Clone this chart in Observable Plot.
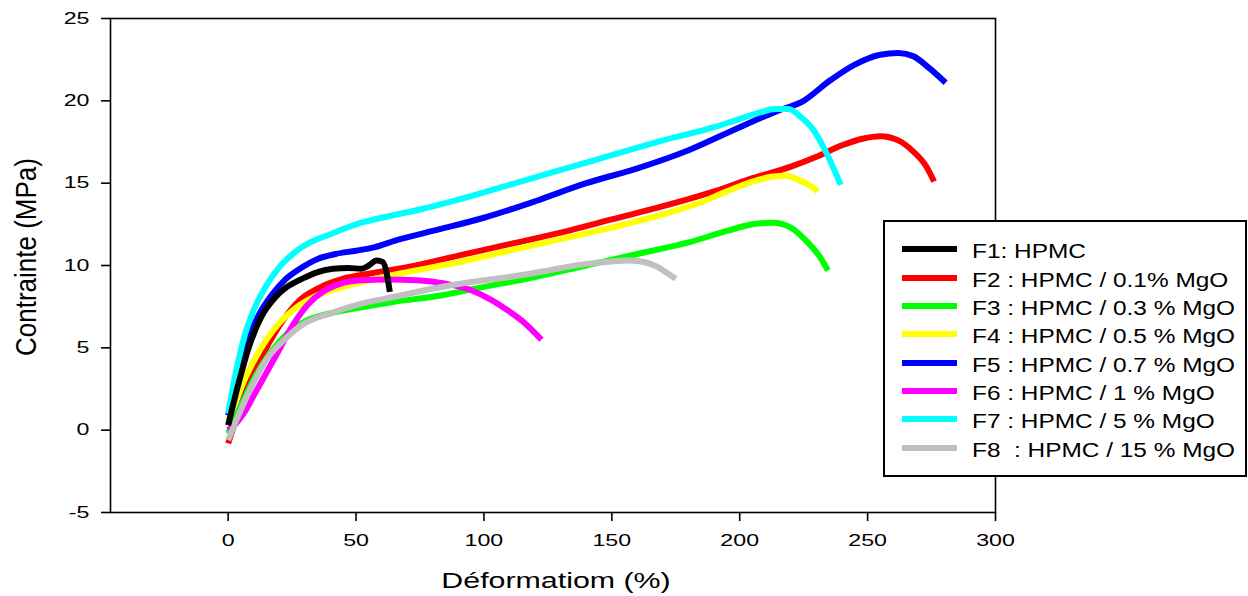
<!DOCTYPE html>
<html>
<head>
<meta charset="utf-8">
<script src="https://cdn.jsdelivr.net/npm/d3@7"></script>
<script src="https://cdn.jsdelivr.net/npm/@observablehq/plot@0.6"></script>
<style>
  html, body { margin: 0; padding: 0; background: #fff; }
  #wrap { position: relative; width: 1248px; height: 596px; font-family: "Liberation Sans", Arial, sans-serif; }
  #legend { position: absolute; left: 883px; top: 220px; width: 360px; height: 253px; border: 2px solid #000; background: #fff; box-sizing: content-box; }
  .row { position: absolute; left: 0; height: 28px; width: 100%; }
  .sw { position: absolute; left: 17px; width: 55px; height: 6px; top: 11px; }
  .lab { position: absolute; left: 87px; top: 2px; line-height: 28px; font-size: 20px; white-space: pre; color: #000; transform: scaleX(1.22); transform-origin: 0 50%; }
</style>
</head>
<body>
<div id="wrap"></div>
<script>
// ---- data ----
const seriesNames = ["F1: HPMC", "F2 : HPMC / 0.1% MgO", "F3 : HPMC / 0.3 % MgO", "F4 : HPMC / 0.5 % MgO",
  "F5 : HPMC / 0.7 % MgO", "F6 : HPMC / 1 % MgO", "F7 : HPMC / 5 % MgO", "F8  : HPMC / 15 % MgO"];
const seriesColors = ["#000000", "#ff0000", "#00ff00", "#ffff00", "#0000ff", "#ff00ff", "#00ffff", "#c0c0c0"];

const f1X = [0, 4, 8, 13, 18, 23, 29, 35, 41, 47, 52, 55, 58, 60.5, 62, 63.2];
const f1Y = [0.3, 2.8, 5.0, 6.9, 8.0, 8.7, 9.2, 9.6, 9.8, 9.85, 9.8, 10.0, 10.3, 10.2, 9.5, 8.4];

const f2X = [0, 5, 10, 16, 22, 28, 35, 45, 55, 70, 90, 110, 130, 150, 170, 190, 205, 220, 230, 240, 248, 255, 262, 268, 273, 276];
const f2Y = [-0.8, 1.5, 3.5, 5.3, 6.8, 7.9, 8.6, 9.2, 9.5, 9.9, 10.6, 11.3, 12.0, 12.8, 13.6, 14.5, 15.3, 16.0, 16.6, 17.3, 17.7, 17.85, 17.6, 16.9, 16.0, 15.1];

const f3X = [0, 5, 10, 16, 22, 30, 40, 50, 65, 80, 100, 120, 140, 160, 180, 195, 205, 213, 220, 226, 231, 234.5];
const f3Y = [-0.2, 1.5, 3.1, 4.6, 5.7, 6.6, 7.1, 7.4, 7.8, 8.1, 8.7, 9.3, 10.0, 10.7, 11.4, 12.1, 12.5, 12.6, 12.3, 11.5, 10.6, 9.7];

const f4X = [0, 5, 10, 15, 20, 28, 35, 45, 55, 70, 90, 110, 130, 150, 170, 186, 195, 205, 213, 218, 223, 227, 230.5];
const f4Y = [0.6, 2.6, 4.2, 5.5, 6.5, 7.6, 8.2, 8.7, 9.1, 9.6, 10.2, 10.9, 11.6, 12.3, 13.1, 13.9, 14.5, 15.1, 15.4, 15.45, 15.2, 14.9, 14.5];

const f5X = [0, 3, 7, 12, 17, 22, 28, 35, 42, 50, 57, 65, 80, 100, 120, 140, 160, 180, 200, 215, 225, 235, 245, 255, 262, 268, 274, 280.5];
const f5Y = [0.9, 3.0, 5.2, 7.0, 8.2, 9.1, 9.8, 10.4, 10.7, 10.9, 11.1, 11.5, 12.1, 12.9, 13.9, 15.0, 15.9, 17.0, 18.4, 19.4, 20.0, 21.2, 22.2, 22.8, 22.9, 22.7, 22.0, 21.1];

const f6X = [0, 3, 6, 10, 15, 20, 25, 31, 37, 44, 52, 62, 74, 85, 95, 103, 110, 116, 120, 122.5];
const f6Y = [0.0, 0.4, 1.0, 2.1, 3.5, 4.9, 6.3, 7.6, 8.4, 8.9, 9.1, 9.15, 9.1, 8.9, 8.5, 7.9, 7.2, 6.5, 5.9, 5.5];

const f7X = [0, 3, 6, 10, 15, 20, 26, 32, 40, 50, 60, 75, 90, 110, 130, 150, 170, 190, 200, 208, 214, 219, 224, 229, 234, 239.5];
const f7Y = [1.0, 3.5, 5.5, 7.3, 8.8, 9.9, 10.8, 11.4, 11.9, 12.5, 12.9, 13.4, 14.0, 14.9, 15.8, 16.7, 17.6, 18.4, 18.9, 19.3, 19.5, 19.5, 19.0, 18.2, 16.8, 14.9];

const f8X = [0, 4, 9, 15, 22, 30, 40, 50, 65, 80, 95, 110, 125, 140, 150, 157, 163, 168, 172, 175];
const f8Y = [-0.6, 0.9, 2.6, 4.3, 5.5, 6.5, 7.1, 7.6, 8.1, 8.6, 9.0, 9.3, 9.7, 10.1, 10.25, 10.3, 10.2, 9.9, 9.5, 9.2];

const xTicks = [0, 50, 100, 150, 200, 250, 300];
const yTicks = [-5, 0, 5, 10, 15, 20, 25];
const xTitle = "Déformatiom (%)";
const yTitle = "Contrainte (MPa)";

// ---- build ----
const allX = [f1X, f2X, f3X, f4X, f5X, f6X, f7X, f8X];
const allY = [f1Y, f2Y, f3Y, f4Y, f5Y, f6Y, f7Y, f8Y];
const tables = allX.map((xs, i) => xs.map((x, j) => ({x, y: allY[i][j]})));
const drawOrder = [1, 2, 3, 4, 5, 6, 7, 0];

const svg = Plot.plot({
  width: 1248,
  height: 596,
  marginLeft: 110,
  marginRight: 253,
  marginTop: 18,
  marginBottom: 84,
  style: {fontFamily: "'Liberation Sans', Arial, sans-serif", fontSize: "16px", color: "#000", background: "#fff"},
  x: {domain: [-46, 300]},
  y: {domain: [-5, 25]},
  marks: [
    ...drawOrder.map(i => Plot.line(tables[i], {x: "x", y: "y", stroke: seriesColors[i], strokeWidth: 6, curve: "monotone-x", strokeLinecap: "butt", strokeLinejoin: "round"})),
    Plot.frame({stroke: "#000", strokeWidth: 1.6}),
    Plot.axisX({ticks: xTicks, tickSize: 9, tickPadding: 13, label: null, strokeWidth: 1.6, fontSize: 16, tickFormat: d => String(d)}),
    Plot.axisY({ticks: yTicks, tickSize: 9, tickPadding: 12, label: null, strokeWidth: 1.6, fontSize: 16, tickFormat: d => String(d)})
  ]
});

const wrap = document.getElementById("wrap");
wrap.appendChild(svg);

// stretch tick labels horizontally (about their anchor) like the reference
const stretch = 1.45;
Array.from(svg.querySelectorAll("text")).forEach(t => {
  const r = t.getBoundingClientRect();
  if (!r.width) return;
  const anchor = getComputedStyle(t).textAnchor || t.getAttribute("text-anchor") || "start";
  const ax = anchor === "end" ? r.right : anchor === "middle" ? (r.left + r.right) / 2 : r.left;
  const parent = t.parentNode;
  const pt = svg.createSVGPoint();
  pt.x = ax; pt.y = (r.top + r.bottom) / 2;
  const local = pt.matrixTransform(parent.getScreenCTM().inverse());
  const g = document.createElementNS("http://www.w3.org/2000/svg", "g");
  g.setAttribute("transform", `translate(${local.x},0) scale(${stretch},1) translate(${-local.x},0)`);
  parent.insertBefore(g, t);
  g.appendChild(t);
});

// axis titles
const s = d3.select(svg);
s.append("text")
  .attr("transform", "translate(556,588) scale(1.38,1)")
  .attr("text-anchor", "middle")
  .attr("font-size", 22)
  .attr("fill", "#000")
  .text(xTitle);
s.append("text")
  .attr("transform", "translate(36,257) rotate(-90) scale(1,1.15)")
  .attr("text-anchor", "middle")
  .attr("font-size", 26)
  .attr("fill", "#000")
  .text(yTitle);

// legend
const legend = document.createElement("div");
legend.id = "legend";
seriesNames.forEach((name, i) => {
  const row = document.createElement("div");
  row.className = "row";
  row.style.top = (27.3 + i * 28.33 - 14) + "px";
  const sw = document.createElement("div");
  sw.className = "sw";
  sw.style.background = seriesColors[i];
  const lab = document.createElement("span");
  lab.className = "lab";
  lab.textContent = name;
  row.appendChild(sw); row.appendChild(lab);
  legend.appendChild(row);
});
wrap.appendChild(legend);
</script>
</body>
</html>
